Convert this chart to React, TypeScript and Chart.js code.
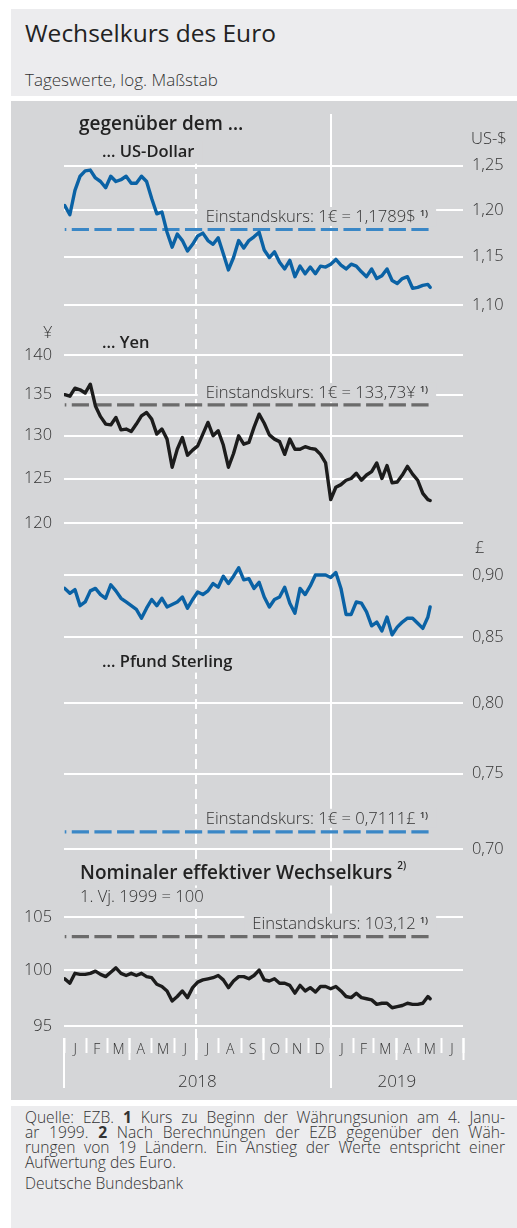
import React, { useEffect, useRef } from 'react';
import { Chart, registerables } from 'chart.js';

Chart.register(...registerables);

const FONT = "'Open Sans', 'Noto Sans', 'DejaVu Sans', sans-serif";
const PANEL = '#d5d6d8';
const LIGHT = '#ececee';
const TEXT = '#333333';
const HEAD = '#222222';
const BLUE = '#0a62a5';
const BLUE_REF = '#3a87c6';
const BLACK = '#1c1c1c';
const GRAY_REF = '#6b6b6b';

// ---- time axis (days since 1 Jan 2018) ----
const MONTH_LABELS = ['J', 'F', 'M', 'A', 'M', 'J', 'J', 'A', 'S', 'O', 'N', 'D', 'J', 'F', 'M', 'A', 'M', 'J'];
const MONTH_STARTS = [0, 31, 59, 90, 120, 151, 181, 212, 243, 273, 304, 334, 365, 396, 424, 455, 485, 516, 546];
const QUARTER_STARTS = [90, 181, 273, 455, 546];
const YEAR_STARTS = [0, 365];
const HALF_YEAR = [181];
const YEAR_LABELS = ['2018', '2019'];
const YEAR_MIDS = [182.5, 455.5];

// observation days (weekly readings + last observation)
const DAYS = [1, 8, 15, 22, 29, 36, 43, 50, 57, 64, 71, 78, 85, 92, 99, 106, 113, 120, 127, 134,
  141, 148, 155, 162, 169, 176, 183, 190, 197, 204, 211, 218, 225, 232, 239, 246, 253, 260, 267, 274,
  281, 288, 295, 302, 309, 316, 323, 330, 337, 344, 351, 358, 365, 372, 379, 386, 393, 400, 407, 414,
  421, 428, 435, 442, 449, 456, 463, 470, 477, 484, 491, 498, 501];

const USD = [1.205, 1.195, 1.222, 1.238, 1.244, 1.245, 1.236, 1.232, 1.225, 1.238,
  1.232, 1.234, 1.238, 1.230, 1.230, 1.238, 1.232, 1.213, 1.196, 1.198,
  1.176, 1.160, 1.174, 1.167, 1.156, 1.163, 1.172, 1.175, 1.167, 1.163,
  1.170, 1.153, 1.136, 1.149, 1.167, 1.159, 1.167, 1.171, 1.176, 1.157,
  1.149, 1.155, 1.144, 1.137, 1.146, 1.129, 1.140, 1.132, 1.139, 1.132,
  1.140, 1.139, 1.142, 1.147, 1.141, 1.137, 1.142, 1.140, 1.134, 1.129,
  1.137, 1.127, 1.130, 1.137, 1.125, 1.122, 1.127, 1.129, 1.117, 1.118,
  1.120, 1.121, 1.118];

const JPY = [135.0, 134.8, 135.8, 135.6, 135.2, 136.3, 133.6, 132.3, 131.4, 131.3,
  132.2, 130.7, 130.8, 130.5, 131.4, 132.4, 132.8, 132.0, 130.2, 130.8,
  129.6, 126.3, 128.4, 129.8, 127.7, 128.3, 128.8, 130.2, 131.6, 130.0,
  130.6, 128.9, 126.3, 127.9, 130.0, 129.0, 129.2, 131.0, 132.6, 131.5,
  130.1, 129.6, 129.3, 127.8, 129.6, 128.4, 128.4, 128.7, 128.5, 128.4,
  127.8, 126.8, 122.6, 124.0, 124.3, 124.8, 125.0, 125.6, 124.8, 125.4,
  125.8, 126.8, 125.0, 126.5, 124.5, 124.6, 125.4, 126.4, 125.5, 124.8,
  123.3, 122.6, 122.5];

const GBP = [0.889, 0.885, 0.888, 0.875, 0.878, 0.887, 0.889, 0.884, 0.881, 0.892,
  0.887, 0.881, 0.878, 0.875, 0.872, 0.865, 0.873, 0.880, 0.875, 0.881,
  0.874, 0.876, 0.878, 0.882, 0.873, 0.880, 0.886, 0.884, 0.887, 0.893,
  0.890, 0.899, 0.893, 0.899, 0.906, 0.896, 0.897, 0.889, 0.894, 0.882,
  0.874, 0.880, 0.882, 0.890, 0.877, 0.869, 0.889, 0.884, 0.891, 0.900,
  0.900, 0.900, 0.898, 0.902, 0.889, 0.868, 0.868, 0.878, 0.877, 0.870,
  0.859, 0.862, 0.855, 0.866, 0.852, 0.858, 0.862, 0.865, 0.865, 0.861,
  0.857, 0.866, 0.874];

const NEER = [99.2, 98.8, 99.7, 99.6, 99.6, 99.7, 99.9, 99.6, 99.4, 99.8,
  100.2, 99.7, 99.5, 99.7, 99.5, 99.7, 99.4, 99.3, 98.7, 98.5,
  98.1, 97.2, 97.6, 98.1, 97.5, 98.4, 98.9, 99.1, 99.2, 99.3,
  99.5, 99.1, 98.4, 99.0, 99.4, 99.4, 99.2, 99.5, 100.0, 99.1,
  99.0, 99.2, 98.8, 98.8, 98.6, 97.9, 98.6, 98.1, 98.4, 98.0,
  98.5, 98.5, 98.3, 98.5, 98.1, 97.6, 97.5, 97.9, 97.5, 97.4,
  97.3, 96.9, 97.0, 97.0, 96.6, 96.7, 96.8, 97.0, 96.9, 96.9,
  97.0, 97.6, 97.4];

// reference (conversion) rates at the start of EMU
const REF_USD = 1.1789;
const REF_JPY = 133.73;
const REF_GBP = 0.7111;
const REF_NEER = 103.12;

// tick values
const USD_TICKS = [1.1, 1.15, 1.2, 1.25];
const JPY_TICKS = [120, 125, 130, 135, 140];
const GBP_TICKS = [0.7, 0.75, 0.8, 0.85, 0.9];
const NEER_TICKS = [95, 100, 105];

// log-axis bounds (all panels share the same log scaling)
const USD_RANGE = [0.5615, 1.3107];
const JPY_RANGE = [74.815, 174.64];
const GBP_RANGE = [0.58853, 1.37379];
const NEER_RANGE = [93.956, 219.32];

const X_MIN = MONTH_STARTS[0];
const X_MAX = MONTH_STARTS[MONTH_STARTS.length - 1];
const MONTH_MIDS = MONTH_STARTS.slice(0, -1).map((d, i) => (d + MONTH_STARTS[i + 1]) / 2);

const F_HEAD = `600 19px ${FONT}`;
const F_SUB = `600 16.5px ${FONT}`;
const F_TXT = `300 16.6px ${FONT}`;
const F_SUP = `600 9.5px ${FONT}`;

type Part = { text: string; font: string; dy?: number; gap?: number; color?: string };

function drawLabel(ctx: CanvasRenderingContext2D, parts: Part[], x: number, baseline: number,
  align: 'left' | 'right', pad: number[] | null) {
  let total = 0;
  const widths = parts.map((p) => {
    ctx.font = p.font;
    const w = ctx.measureText(p.text).width + (p.gap || 0);
    total += w;
    return w;
  });
  const x0 = align === 'left' ? x : x - total;
  if (pad) {
    ctx.fillStyle = PANEL;
    ctx.fillRect(x0 - pad[3], baseline - pad[0], total + pad[1] + pad[3], pad[0] + pad[2]);
  }
  let cx = x0;
  parts.forEach((p, i) => {
    ctx.font = p.font;
    ctx.fillStyle = p.color || TEXT;
    ctx.fillText(p.text, cx + (p.gap || 0), baseline + (p.dy || 0));
    cx += widths[i];
  });
}

const labelsPlugin = {
  id: 'panelLabels',
  afterLayout(chart: any) {
    // overlapping axes share the label room of their neighbour
    const s = chart.scales;
    s.yNEER.left = s.yJPY.left;
    s.yGBP.right = s.yUSD.right;
    s.xMonths.bottom = s.xYears.bottom;
  },
  beforeDatasetsDraw(chart: any) {
    const { ctx, chartArea: ca, scales: s } = chart;
    const yU = (v: number) => s.yUSD.getPixelForValue(v);
    const yJ = (v: number) => s.yJPY.getPixelForValue(v);
    const yG = (v: number) => s.yGBP.getPixelForValue(v);
    const yN = (v: number) => s.yNEER.getPixelForValue(v);
    const xEnd = s.x.getPixelForValue(DAYS[DAYS.length - 1]) - 2;
    ctx.save();
    ctx.textBaseline = 'alphabetic';
    ctx.textAlign = 'left';

    drawLabel(ctx, [{ text: 'gegenüber dem …', font: F_HEAD, color: HEAD }], ca.left + 15, ca.top + 15.5, 'left', [16.5, 5, 14, 5]);
    drawLabel(ctx, [{ text: '… US-Dollar', font: F_SUB, color: HEAD }], ca.left + 38, ca.top + 42.7, 'left', [16, 8, 7, 4]);
    drawLabel(ctx, [{ text: 'US-$', font: F_TXT }], ca.right + 8, yU(1.25) - 21.7, 'left', null);
    drawLabel(ctx, [{ text: 'Einstandskurs: 1€ = 1,1789$', font: F_TXT }, { text: '1)', font: F_SUP, dy: -6, gap: 4 }],
      xEnd, yU(REF_USD) - 7.5, 'right', [15, 8, 4, 8]);

    drawLabel(ctx, [{ text: '¥', font: F_TXT }], ca.left - 11.5, yJ(140) - 17, 'right', null);
    drawLabel(ctx, [{ text: '… Yen', font: F_SUB, color: HEAD }], ca.left + 38, yJ(140) - 6.7, 'left', [16, 4, 4, 4]);
    drawLabel(ctx, [{ text: 'Einstandskurs: 1€ = 133,73¥', font: F_TXT }, { text: '1)', font: F_SUP, dy: -6, gap: 4 }],
      xEnd, yJ(REF_JPY) - 7, 'right', [15, 8, 4, 8]);

    drawLabel(ctx, [{ text: '£', font: F_TXT }], ca.right + 12, yG(0.9) - 22, 'left', null);
    drawLabel(ctx, [{ text: '… Pfund Sterling', font: F_SUB, color: HEAD }], ca.left + 38, yG(0.85) + 29.3, 'left', [17, 5, 6, 4]);
    drawLabel(ctx, [{ text: 'Einstandskurs: 1€ = 0,7111£', font: F_TXT }, { text: '1)', font: F_SUP, dy: -6, gap: 4 }],
      xEnd, yG(REF_GBP) - 8, 'right', [15, 8, 4, 8]);

    drawLabel(ctx, [{ text: 'Nominaler effektiver Wechselkurs', font: F_HEAD, color: HEAD }, { text: '2)', font: `600 10px ${FONT}`, dy: -10, gap: 5, color: HEAD }],
      ca.left + 16, yN(105) - 37.4, 'left', [18, 5, 6, 5]);
    drawLabel(ctx, [{ text: '1. Vj. 1999 = 100', font: F_TXT }], ca.left + 16, yN(105) - 15, 'left', [14, 4, 4, 4]);
    drawLabel(ctx, [{ text: 'Einstandskurs: 103,12', font: F_TXT }, { text: '1)', font: F_SUP, dy: -6, gap: 4 }],
      xEnd, yN(REF_NEER) - 8, 'right', [15, 8, 4, 8]);

    ctx.restore();
  },
};

const noPad = (sc: any) => {
  sc.paddingTop = 0; sc.paddingBottom = 0; sc.paddingLeft = 0; sc.paddingRight = 0;
};

function yAxis(position: 'left' | 'right', range: number[], ticks: number[], width: number, weight: number,
  fmt: (v: number) => string, padding: number) {
  return {
    type: 'logarithmic',
    position,
    min: range[0],
    max: range[1],
    bounds: 'data',
    weight,
    afterBuildTicks: (sc: any) => { sc.ticks = ticks.map((v) => ({ value: v })); },
    afterFit: (sc: any) => { sc.width = width; noPad(sc); },
    border: { display: false },
    grid: { color: '#ffffff', lineWidth: 2, drawTicks: false },
    ticks: {
      autoSkip: false,
      padding,
      color: TEXT,
      font: { family: FONT, size: 16.4, weight: '300' },
      callback: (v: number) => fmt(v),
    },
  };
}

function xAxis(values: number[], weight: number, height: number, extra: any) {
  return {
    type: 'linear',
    position: 'bottom',
    min: X_MIN,
    max: X_MAX,
    weight,
    afterBuildTicks: (sc: any) => { sc.ticks = values.map((v) => ({ value: v })); },
    afterFit: (sc: any) => { sc.height = height; noPad(sc); },
    border: { display: false },
    ...extra,
  };
}

const comma2 = (v: number) => v.toFixed(2).replace('.', ',');
const int0 = (v: number) => String(Math.round(v));

function series(values: number[]) {
  return DAYS.map((d, i) => ({ x: d, y: values[i] }));
}
function refLine(value: number) {
  return [{ x: DAYS[0], y: value }, { x: DAYS[DAYS.length - 1], y: value }];
}

const lineStyle = (color: string, axis: string, data: any[]) => ({
  data,
  yAxisID: axis,
  xAxisID: 'x',
  borderColor: color,
  borderWidth: 3.4,
  pointRadius: 0,
  tension: 0,
  borderJoinStyle: 'round',
  borderCapStyle: 'round',
});
const refStyle = (color: string, axis: string, data: any[]) => ({
  data,
  yAxisID: axis,
  xAxisID: 'x',
  borderColor: color,
  borderWidth: 3.2,
  borderDash: [17.2, 5.44],
  borderDashOffset: 15.6,
  pointRadius: 0,
  borderCapStyle: 'butt',
});

export default function App() {
  const canvasRef = useRef<HTMLCanvasElement>(null);

  useEffect(() => {
    const prev = document.body.style.overflow;
    document.body.style.overflow = 'hidden';
    const chart = new Chart(canvasRef.current as HTMLCanvasElement, {
      type: 'line',
      data: {
        datasets: [
          lineStyle(BLUE, 'yUSD', series(USD)),
          lineStyle(BLACK, 'yJPY', series(JPY)),
          lineStyle(BLUE, 'yGBP', series(GBP)),
          lineStyle(BLACK, 'yNEER', series(NEER)),
          refStyle(BLUE_REF, 'yUSD', refLine(REF_USD)),
          refStyle(GRAY_REF, 'yJPY', refLine(REF_JPY)),
          refStyle(BLUE_REF, 'yGBP', refLine(REF_GBP)),
          refStyle(GRAY_REF, 'yNEER', refLine(REF_NEER)),
        ] as any,
      },
      options: {
        responsive: false,
        animation: false,
        events: [],
        layout: { padding: { top: 13, left: 0, right: 0, bottom: 0 }, autoPadding: false } as any,
        plugins: { legend: { display: false }, tooltip: { enabled: false }, title: { display: false } },
        scales: {
          yJPY: yAxis('left', JPY_RANGE, JPY_TICKS, 53, 1, int0, 12),
          yNEER: yAxis('left', NEER_RANGE, NEER_TICKS, 0, 0, int0, 12),
          yUSD: yAxis('right', USD_RANGE, USD_TICKS, 54, 1, comma2, 9),
          yGBP: yAxis('right', GBP_RANGE, GBP_TICKS, 0, 0, comma2, 9),
          x: xAxis(MONTH_STARTS, 0, 0, {
            grid: { drawOnChartArea: false, drawTicks: true, tickLength: 15, tickColor: '#ffffff', tickWidth: 2 },
            ticks: { display: false },
          }),
          xQuarter: xAxis(QUARTER_STARTS, 1, 0, {
            grid: { drawOnChartArea: false, drawTicks: true, tickLength: 22, tickColor: '#ffffff', tickWidth: 2 },
            ticks: { display: false },
          }),
          xYear: xAxis(YEAR_STARTS, 2, 0, {
            grid: {
              drawOnChartArea: true,
              color: (c: any) => (c.tick && c.tick.value === 365 ? '#ffffff' : 'rgba(0,0,0,0)'),
              lineWidth: 2,
              drawTicks: true,
              tickLength: 50,
              tickColor: '#ffffff',
              tickWidth: 2,
            },
            ticks: { display: false },
          }),
          xHalf: xAxis(HALF_YEAR, 3, 0, {
            border: { display: false, dash: [10, 5] },
            grid: {
              drawOnChartArea: true,
              color: '#ffffff',
              lineWidth: 2,
              drawTicks: true,
              tickLength: 22,
              tickColor: '#ffffff',
              tickWidth: 2,
              tickBorderDash: [],
            },
            ticks: { display: false },
          }),
          xMonths: xAxis(MONTH_MIDS, 4, 0, {
            grid: { display: false, drawTicks: false },
            ticks: {
              autoSkip: false, maxRotation: 0, minRotation: 0, padding: 3.6, color: TEXT,
              font: { family: FONT, size: 14, weight: '300' },
              callback: (_v: number, i: number) => MONTH_LABELS[i],
            },
          }),
          xYears: xAxis(YEAR_MIDS, 5, 62, {
            grid: { display: false, drawTicks: false },
            ticks: {
              autoSkip: false, maxRotation: 0, minRotation: 0, padding: 34, color: TEXT,
              font: { family: FONT, size: 17, weight: '300' },
              callback: (_v: number, i: number) => YEAR_LABELS[i],
            },
          }),
        } as any,
      },
      plugins: [labelsPlugin],
    } as any);
    return () => {
      chart.destroy();
      document.body.style.overflow = prev;
    };
  }, []);

  const footLine = { height: 15.3, lineHeight: '15.3px', textAlign: 'justify' as const, textAlignLast: 'justify' as const, whiteSpace: 'nowrap' as const };
  const bold = { fontWeight: 700 };

  return (
    <div style={{ position: 'absolute', left: 11, top: 9, width: 506, height: 1219, fontFamily: FONT, color: TEXT }}>
      <div style={{ position: 'absolute', left: 0, top: 0, width: 506, height: 86.5, background: LIGHT }}>
        <div style={{ position: 'absolute', left: 14, top: 11.9, fontSize: 24.5, lineHeight: '24.5px', color: HEAD, whiteSpace: 'nowrap' }}>
          Wechselkurs des Euro
        </div>
        <div style={{ position: 'absolute', left: 14, top: 62.4, fontSize: 17, lineHeight: '17px', fontWeight: 300, whiteSpace: 'nowrap' }}>
          Tageswerte, log. Maßstab
        </div>
      </div>
      <div style={{ position: 'absolute', left: 0, top: 92, width: 506, height: 999, background: PANEL }}>
        <canvas ref={canvasRef} width={506} height={999} style={{ display: 'block', width: 506, height: 999 }} />
      </div>
      <div style={{ position: 'absolute', left: 0, top: 1097, width: 506, height: 122, background: LIGHT, fontSize: 15.6, fontWeight: 300 }}>
        <div style={{ position: 'absolute', left: 14, top: 3.6, width: 480 }}>
          <div style={footLine}>Quelle: EZB. <b style={bold}>1</b> Kurs zu Beginn der Währungsunion am 4. Janu-</div>
          <div style={footLine}>ar 1999. <b style={bold}>2</b> Nach Berechnungen der EZB gegenüber den Wäh-</div>
          <div style={footLine}>rungen von 19 Ländern. Ein Anstieg der Werte entspricht einer</div>
          <div style={{ height: 15.3, lineHeight: '15.3px', whiteSpace: 'nowrap' }}>Aufwertung des Euro.</div>
          <div style={{ height: 15.3, lineHeight: '15.3px', marginTop: 5.5, whiteSpace: 'nowrap' }}>Deutsche Bundesbank</div>
        </div>
      </div>
    </div>
  );
}
